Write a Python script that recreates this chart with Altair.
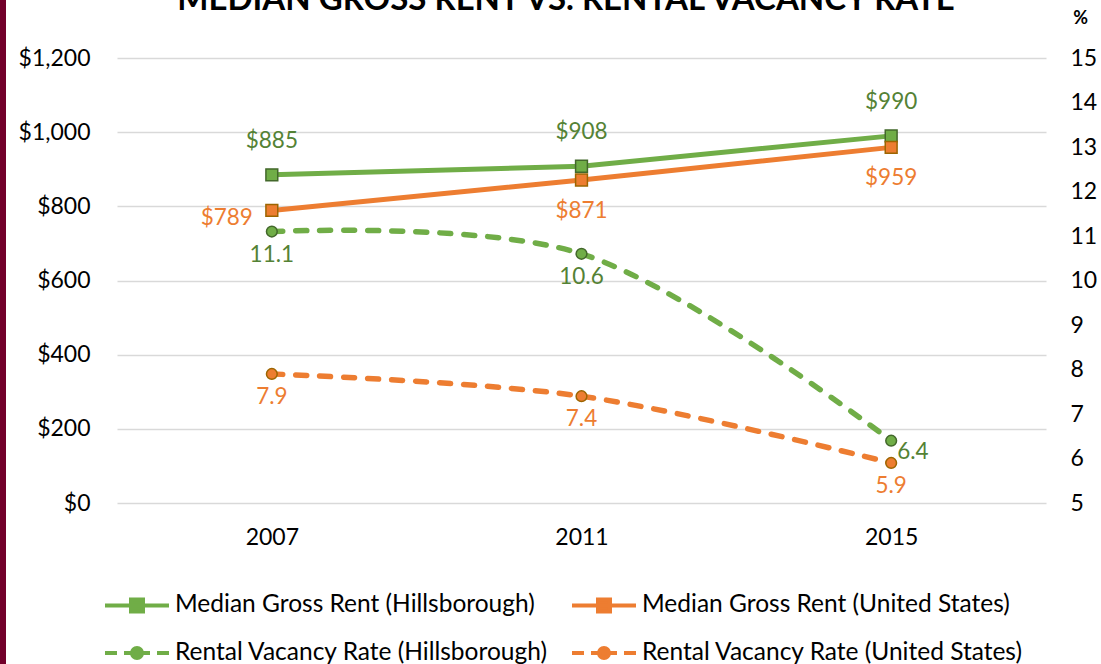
import altair as alt
import pandas as pd

# ---------------- data ----------------
years = ["2007", "2011", "2015"]
rent_hills = [885, 908, 990]
rent_us = [789, 871, 959]
vac_hills = [11.1, 10.6, 6.4]
vac_us = [7.9, 7.4, 5.9]
series_names = [
    "Median Gross Rent (Hillsborough)",
    "Median Gross Rent (United States)",
    "Rental Vacancy Rate (Hillsborough)",
    "Rental Vacancy Rate (United States)",
]
series_kind = ["rent", "rent", "rate", "rate"]
rent_ticks = [0, 200, 400, 600, 800, 1000, 1200]
rate_ticks = [5, 6, 7, 8, 9, 10, 11, 12, 13, 14, 15]
title_text = "MEDIAN GROSS RENT VS. RENTAL VACANCY RATE"

rows = []
for name, kind, vals in zip(series_names, series_kind, [rent_hills, rent_us, vac_hills, vac_us]):
    for yr, v in zip(years, vals):
        rows.append({"series": name, "kind": kind, "year": yr, "value": v})
df = pd.DataFrame(rows)

# ---------------- styles ----------------
FONT = "Lato"
GREEN, ORANGE = "#70AD47", "#ED7D31"
GREEN_DARK, ORANGE_DARK = "#43682B", "#9C6500"
GREEN_TEXT, ORANGE_TEXT = "#548235", "#ED7D31"

# legend entries are laid out column by column: order so rows read across
legend_order = [series_names[0], series_names[2], series_names[1], series_names[3]]
color_of = {series_names[0]: GREEN, series_names[1]: ORANGE, series_names[2]: GREEN, series_names[3]: ORANGE}
border_of = {series_names[0]: GREEN_DARK, series_names[1]: ORANGE_DARK,
             series_names[2]: GREEN_DARK, series_names[3]: ORANGE_DARK}

# legend symbol paths (unit = 11 px, symbol center at 11 px from entry start)
U = 11.0
def ux(px):
    return round(px / U - 1, 4)
def uy(px):
    return round(px / U, 4)

def rent_path():
    h = 6.0
    return (f"M{ux(0)},0L{ux(64)},0"
            f"M{ux(32 - h)},{uy(-h)}L{ux(32 + h)},{uy(-h)}L{ux(32 + h)},{uy(h)}L{ux(32 - h)},{uy(h)}Z")

def rate_path():
    r = 5.0
    segs = [(0, 12), (19, 26), (38, 45), (52, 64)]
    p = "".join(f"M{ux(a)},0L{ux(b)},0" for a, b in segs)
    p += (f"M{ux(32 - r)},0A{uy(r)},{uy(r)},0,1,1,{ux(32 + r)},0"
          f"A{uy(r)},{uy(r)},0,1,1,{ux(32 - r)},0Z")
    return p

path_of = {series_names[0]: rent_path(), series_names[1]: rent_path(),
           series_names[2]: rate_path(), series_names[3]: rate_path()}

stroke_scale = alt.Scale(domain=legend_order, range=[color_of[s] for s in legend_order])
fill_scale = alt.Scale(domain=legend_order, range=[color_of[s] for s in legend_order])
border_scale = alt.Scale(domain=legend_order, range=[border_of[s] for s in legend_order])
shape_scale = alt.Scale(domain=legend_order, range=[path_of[s] for s in legend_order])

leg = alt.Legend(
    title=None, orient="none", legendX=-14, legendY=534, columns=2,
    symbolSize=U * 2 * U * 2, symbolStrokeWidth=4, symbolOpacity=1,
    labelFont=FONT, labelFontSize=24.5, labelColor="black", labelOffset=46,
    labelLimit=700, rowPadding=19, columnPadding=15, padding=0,
)

x_enc = alt.X(
    "year:N", sort=years, title=None,
    axis=alt.Axis(labelAngle=0, ticks=False, domain=False, grid=False,
                  labelPadding=23, labelFontSize=23, labelFont=FONT, labelColor="black"),
)

base = alt.Chart(df).encode(x=x_enc)

# ---------------- rent (left axis) ----------------
rent_base = base.transform_filter("datum.kind == 'rent'").encode(
    y=alt.Y("value:Q", scale=alt.Scale(domain=[0, 1200]), title=None,
            axis=alt.Axis(values=rent_ticks, format="$,.0f", ticks=False, domain=False,
                          grid=True, gridColor="#D9D9D9", gridWidth=1.5,
                          labelPadding=27, labelFontSize=23, labelFont=FONT, labelColor="black"))
)
rent_line = rent_base.mark_line(strokeWidth=5, strokeCap="round").encode(
    stroke=alt.Stroke("series:N", scale=stroke_scale, legend=None)
)
rent_pts = rent_base.mark_point(shape="square", size=140, filled=False, opacity=1, strokeWidth=1.5).encode(
    fill=alt.Fill("series:N", scale=fill_scale, legend=None),
    color=alt.Color("series:N", scale=border_scale, legend=None),
)
txt = dict(font=FONT, fontSize=22.5, baseline="middle")
rent_h_txt = rent_base.transform_filter(
    f"datum.series == '{series_names[0]}'"
).mark_text(dy=-34, color=GREEN_TEXT, **txt).encode(text=alt.Text("value:Q", format="$,.0f"))
rent_us_left = rent_base.transform_filter(
    f"datum.series == '{series_names[1]}' && datum.year == '{years[0]}'"
).mark_text(dy=8, dx=-19, align="right", color=ORANGE_TEXT, **txt).encode(text=alt.Text("value:Q", format="$,.0f"))
rent_us_below = rent_base.transform_filter(
    f"datum.series == '{series_names[1]}' && datum.year != '{years[0]}'"
).mark_text(dy=31, color=ORANGE_TEXT, **txt).encode(text=alt.Text("value:Q", format="$,.0f"))

rent = alt.layer(rent_line, rent_pts, rent_h_txt, rent_us_left, rent_us_below)

# ---------------- vacancy (right axis) ----------------
vac_base = base.transform_filter("datum.kind == 'rate'").encode(
    y=alt.Y("value:Q", scale=alt.Scale(domain=[5, 15]),
            axis=alt.Axis(orient="right", values=rate_ticks, ticks=False, domain=False, grid=False,
                          labelPadding=24, labelFontSize=23, labelFont=FONT, labelColor="black",
                          title="%", titleAngle=0, titleX=34, titleY=-40, titleAlign="center",
                          titleBaseline="middle", titleFont=FONT, titleFontSize=18,
                          titleFontWeight="bold", titleColor="black"))
)
vac_line = vac_base.mark_line(strokeWidth=5.5, strokeCap="round", strokeDash=[11, 13],
                              interpolate="catmull-rom").encode(
    stroke=alt.Stroke("series:N", scale=stroke_scale, legend=None)
)
vac_pts = vac_base.mark_point(shape="circle", size=115, filled=False, opacity=1, strokeWidth=1.5).encode(
    fill=alt.Fill("series:N", scale=fill_scale, legend=None),
    color=alt.Color("series:N", scale=border_scale, legend=None),
)
vac_h_below = vac_base.transform_filter(
    f"datum.series == '{series_names[2]}' && datum.year != '{years[2]}'"
).mark_text(dy=23, color=GREEN_TEXT, **txt).encode(text=alt.Text("value:Q", format=".1f"))
vac_h_right = vac_base.transform_filter(
    f"datum.series == '{series_names[2]}' && datum.year == '{years[2]}'"
).mark_text(dy=11, dx=6, align="left", color=GREEN_TEXT, **txt).encode(text=alt.Text("value:Q", format=".1f"))
vac_us_txt = vac_base.transform_filter(
    f"datum.series == '{series_names[3]}'"
).mark_text(dy=23, color=ORANGE_TEXT, **txt).encode(text=alt.Text("value:Q", format=".1f"))

vac = alt.layer(vac_line, vac_pts, vac_h_below, vac_h_right, vac_us_txt)

# ---------------- legend-only layer (draws no points) ----------------
legend_layer = alt.Chart(df).transform_filter("datum.value < 0").mark_point(
    filled=True, opacity=1, strokeWidth=4
).encode(
    shape=alt.Shape("series:N", scale=shape_scale, legend=leg),
    fill=alt.Fill("series:N", scale=fill_scale, legend=leg),
    stroke=alt.Stroke("series:N", scale=stroke_scale, legend=leg),
)

# ---------------- decorations ----------------
one = pd.DataFrame({"t": [title_text]})
title_layer = alt.Chart(one).mark_text(
    font=FONT, fontSize=33, fontWeight="bold", baseline="alphabetic", align="center", color="black"
).encode(x=alt.value(449), y=alt.value(-48), text="t:N")
border = alt.Chart(one).mark_rule(color="#72002A", strokeWidth=6).encode(
    x=alt.value(-114), y=alt.value(-58), y2=alt.value(606)
)

chart = alt.layer(border, title_layer, legend_layer, rent, vac).resolve_scale(
    y="independent"
).properties(
    width=929, height=445,
    autosize=alt.AutoSizeParams(type="none"),
    padding={"left": 117, "top": 58, "right": 55, "bottom": 161},
    background="white",
).configure(font=FONT).configure_view(stroke=None)

chart.save("out.html", embed_options={"renderer": "svg", "actions": False})
